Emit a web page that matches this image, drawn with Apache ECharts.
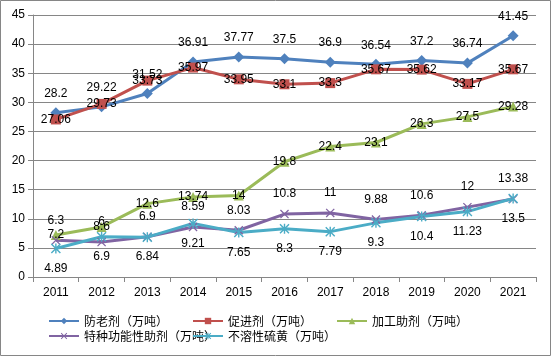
<!DOCTYPE html>
<html><head><meta charset="utf-8">
<script src="https://cdn.jsdelivr.net/npm/echarts@6/dist/echarts.min.js"></script>
<style>html,body{margin:0;padding:0;background:#fff}#c{width:551px;height:356px}</style>
</head><body><div id="c"></div>
<script>
const years = ['2011','2012','2013','2014','2015','2016','2017','2018','2019','2020','2021'];
const antiAging = [28.2, 29.22, 31.52, 36.91, 37.77, 37.5, 36.9, 36.54, 37.2, 36.74, 41.45];
const accelerator = [27.06, 29.73, 33.73, 35.97, 33.95, 33.1, 33.3, 35.67, 35.62, 33.17, 35.67];
const processing = [7.2, 8.6, 12.6, 13.74, 14, 19.8, 22.4, 23.1, 26.3, 27.5, 29.28];
const special = [6.3, 6, 6.9, 8.59, 8.03, 10.8, 11, 9.88, 10.6, 12, 13.38];
const insolubleS = [4.89, 6.9, 6.84, 9.21, 7.65, 8.3, 7.79, 9.3, 10.4, 11.23, 13.5];
const names = ['防老剂（万吨）','促进剂（万吨）','加工助剂（万吨）','特种功能性助剂（万吨）','不溶性硫黄（万吨）'];
const yTicks = {min:0, max:45, interval:5};

const numFont = 'Liberation Sans';
const cjkFont = '"Noto Sans CJK SC"';
const xPath = 'path://M0,1 L1,0 L10,9 L9,10 Z M9,0 L10,1 L1,10 L0,9 Z';
const starPath = 'path://M0,1 L1,0 L10,9 L9,10 Z M9,0 L10,1 L1,10 L0,9 Z M4.3,0 L5.7,0 L5.7,10 L4.3,10 Z';

function mk(name, data, color, symbol, size, offY){
  return {
    name, type:'line', data, symbol, symbolSize:size,
    lineStyle:{color, width:3}, itemStyle:{color},
    label:{show:true, position:'inside', offset:[0,offY], color:'#000', fontSize:12, fontFamily:numFont},
    animation:false
  };
}
const legendPos = [[48,315],[192,315],[336,315],[48,330],[192,330]];
const chart = echarts.init(document.getElementById('c'), null, {renderer:'canvas'});
chart.setOption({
  backgroundColor:'#fff',
  animation:false,
  grid:{left:33, right:15, top:15, bottom:79},
  xAxis:{type:'category', data:years, boundaryGap:true,
    axisLine:{lineStyle:{color:'#868686'}},
    axisTick:{show:true, length:5, lineStyle:{color:'#868686'}},
    axisLabel:{color:'#000', fontSize:12, fontFamily:numFont, margin:10}},
  yAxis:{type:'value', min:yTicks.min, max:yTicks.max, interval:yTicks.interval,
    axisLine:{show:true, lineStyle:{color:'#868686'}},
    axisTick:{show:true, length:5, lineStyle:{color:'#868686'}},
    splitLine:{lineStyle:{color:'#868686'}},
    axisLabel:{color:'#000', fontSize:12, fontFamily:numFont, margin:8}},
  legend: names.map((n,i)=>({
    data:[n], left:legendPos[i][0], top:legendPos[i][1], padding:0,
    itemWidth:30, itemHeight:8,
    textStyle:{color:'#000', fontSize:12, fontFamily:cjkFont}
  })),
  graphic:[{type:'rect', shape:{x:0.5,y:0.5,width:550,height:355}, style:{fill:null, stroke:'#868686', lineWidth:1}, silent:true}],
  series:[
    mk(names[0], antiAging, '#4F81BD', 'diamond', 11, -19),
    mk(names[1], accelerator, '#C0504D', 'rect', 10, 0),
    mk(names[2], processing, '#9BBB59', 'triangle', 10, 0),
    mk(names[3], special, '#8064A2', xPath, 9, -20),
    mk(names[4], insolubleS, '#4BACC6', starPath, 10, 20)
  ]
});
</script></body></html>
